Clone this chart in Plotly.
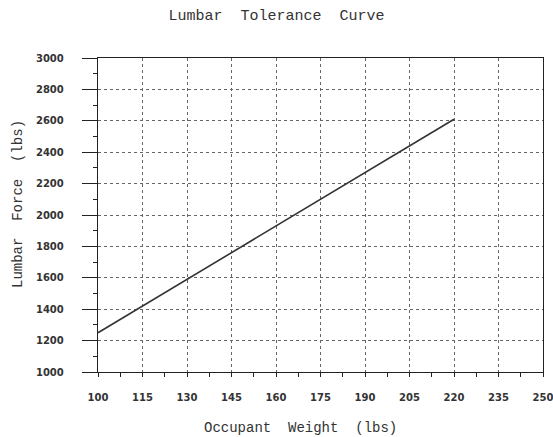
import plotly.graph_objects as go

# Lumbar tolerance curve: allowable lumbar load vs. occupant weight
weight_lbs = [100, 220]
lumbar_force_lbs = [1250, 2610]

x_ticks = [100, 115, 130, 145, 160, 175, 190, 205, 220, 235, 250]
y_ticks = [1000, 1200, 1400, 1600, 1800, 2000, 2200, 2400, 2600, 2800, 3000]

NB = "\u00a0"
mono = "Liberation Mono, Courier New, monospace"
tick_font = dict(family="DejaVu Sans, sans-serif", size=10, color="#333", weight="bold")

fig = go.Figure()
fig.add_trace(go.Scatter(
    x=weight_lbs, y=lumbar_force_lbs, mode="lines",
    line=dict(color="#333", width=1.6), showlegend=False, hoverinfo="skip",
))

axis_common = dict(
    showline=True, linecolor="#222", linewidth=1.4, mirror=True,
    showgrid=True, gridcolor="#666", griddash="dot", gridwidth=1,
    zeroline=False, tickcolor="#222", tickwidth=1.2,
    tickfont=tick_font, ticklabeloverflow="allow", automargin=False,
)

fig.update_xaxes(
    range=[100, 250], tickvals=x_ticks, ticktext=[str(v) for v in x_ticks],
    ticks="outside", ticklen=4, ticklabelstandoff=12,
    minor=dict(dtick=7.5, tick0=100, ticks="outside", ticklen=4,
               tickcolor="#222", showgrid=False),
    **axis_common,
)
fig.update_yaxes(
    range=[1000, 3000], tickvals=y_ticks, ticktext=[str(v) for v in y_ticks],
    ticks="outside", ticklen=15, ticklabelstandoff=16,
    minor=dict(dtick=100, tick0=1000, ticks="outside", ticklen=4,
               tickcolor="#222", showgrid=False),
    **axis_common,
)

fig.update_layout(
    width=553, height=437,
    margin=dict(l=98, r=10, t=58, b=65),
    paper_bgcolor="white", plot_bgcolor="white",
    title=dict(
        text=f"Lumbar{NB*2}Tolerance{NB*2}Curve",
        font=dict(family=mono, size=15, color="#333"),
        x=0.5, xref="container", xanchor="center",
        y=1 - 15 / 437, yref="container", yanchor="middle",
    ),
    annotations=[
        dict(text=f"Occupant{NB*2}Weight{NB*2}(lbs)", xref="paper", yref="paper",
             x=(300 - 98) / 445, y=(372 - 428) / 314, xanchor="center", yanchor="middle",
             showarrow=False, font=dict(family=mono, size=14, color="#333")),
        dict(text=f"Lumbar{NB*2}Force{NB*2}(lbs)", xref="paper", yref="paper",
             x=(18 - 98) / 445, y=(372 - 204) / 314, xanchor="center", yanchor="middle",
             textangle=-90, showarrow=False,
             font=dict(family=mono, size=14, color="#333")),
    ],
)

fig.write_html("out.html")
